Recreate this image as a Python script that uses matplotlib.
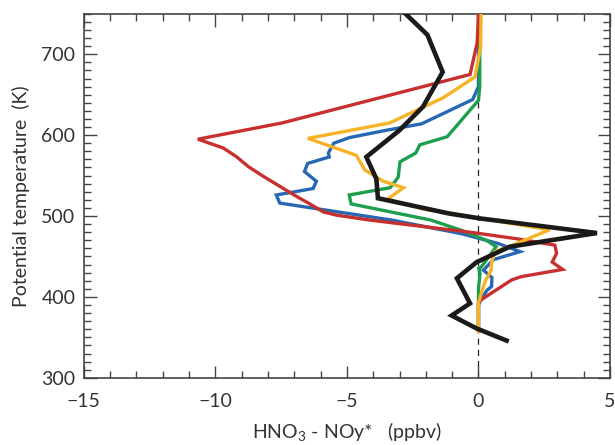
import matplotlib
matplotlib.use('Agg')
import matplotlib.pyplot as plt
from matplotlib.ticker import MultipleLocator

# Profiles of HNO3 - NOy* (ppbv) against potential temperature (K)
blue_x = [0.0, 0.0, -0.22, -2.16, -3.5, -4.9, -5.5, -5.7, -5.67, -6.49, -6.61, -6.16, -6.28,
          -7.68, -7.55, -3.3, -0.62, 0.75, 1.58, 0.56, 0.19, 0.51, 0.5, 0.32, 0.12, 0.0, 0.0]
blue_y = [750, 660, 644, 614, 606, 597, 590, 578, 573, 565, 555, 543, 534,
          526, 516, 495, 478, 466, 456, 446, 433, 424, 413, 408, 398, 390, 358]

green_x = [0.05, 0.05, 0.0, -0.74, -1.19, -2.23, -2.38, -2.98, -3.05, -3.28, -3.36, -4.91,
           -4.84, -1.81, -0.62, 0.3, 0.67, 0.06, 0.0, 0.06, 0.0, 0.0]
green_y = [750, 660, 643, 615, 598, 588, 578, 567, 548, 538, 535, 526,
           515, 495, 482, 470, 462, 435, 437, 429, 410, 358]

red_x = [0.0, -0.05, -0.32, -7.47, -10.66, -9.69, -9.18, -8.74, -8.17, -7.41, -6.9, -6.46,
         -5.89, -5.38, -4.13, -0.32, 1.43, 2.9, 2.97, 2.8, 3.2, 1.62, 1.26, 0.08, 0.0, 0.0]
red_y = [750, 714, 675, 615, 595, 584, 573, 561, 549, 534, 524, 516,
         505, 501, 495, 480, 472, 464, 454, 443, 434, 425, 421, 396, 392, 360]

yellow_x = [0.1, 0.08, -0.13, -1.35, -3.38, -6.48, -4.64, -4.32, -3.62, -2.85, -3.45, -2.0,
            -0.97, 1.2, 2.7, 1.3, 0.63, 0.5, 0.48, 0.25, 0.12, 0.0, 0.0]
yellow_y = [750, 709, 672, 646, 615, 596, 575, 557, 543, 535, 521, 508,
            503, 491, 483, 464, 456, 443, 433, 419, 406, 392, 357]

black_x = [-2.77, -1.94, -1.36, -2.11, -3.0, -4.26, -3.88, -3.82, -1.1, 0.06, 4.5, 1.18,
           -0.07, -0.82, -0.32, -1.02, -0.07, 1.07]
black_y = [750, 724, 678, 635, 606, 573, 546, 522, 503, 497, 479, 462,
           443, 423, 392, 377, 361, 346]

plt.rcParams['font.family'] = ['Lato', 'DejaVu Sans']
plt.rcParams['mathtext.default'] = 'regular'
text_col = '#333333'

fig = plt.figure(figsize=(6.15, 4.45), dpi=100)
ax = fig.add_axes([0.136, 0.151, 0.856, 0.818])

ax.axvline(0, color='#222222', lw=0.9, ls=(0, (5, 4)), zorder=1)

ax.plot(blue_x, blue_y, color='#2767b3', lw=2.4, solid_joinstyle='miter', zorder=2)
ax.plot(green_x, green_y, color='#1e9e4f', lw=2.4, solid_joinstyle='miter', zorder=3)
ax.plot(red_x, red_y, color='#c8302f', lw=2.4, solid_joinstyle='miter', zorder=4)
ax.plot(yellow_x, yellow_y, color='#f6b325', lw=2.4, solid_joinstyle='miter', zorder=5)
ax.plot(black_x, black_y, color='#1b1919', lw=3.3, solid_joinstyle='miter', zorder=6)

ax.set_xlim(-15, 5)
ax.set_ylim(300, 750)
ax.xaxis.set_major_locator(MultipleLocator(5))
ax.xaxis.set_minor_locator(MultipleLocator(1))
ax.yaxis.set_major_locator(MultipleLocator(100))
ax.yaxis.set_minor_locator(MultipleLocator(10))
ax.tick_params(which='both', direction='in', top=True, right=True, color='#444444',
               labelcolor=text_col, labelsize=14)
ax.tick_params(which='major', length=9, width=1.0)
ax.tick_params(which='minor', length=5, width=1.0)
ax.tick_params(axis='x', pad=11)
ax.tick_params(axis='y', pad=6)
for s in ax.spines.values():
    s.set_color('#444444')
    s.set_linewidth(1.2)

ax.set_xlabel('HNO$_3$ - NOy*   (ppbv)', fontsize=14, color=text_col, labelpad=7)
ax.set_ylabel('Potential temperature  (K)', fontsize=14, color=text_col, labelpad=8)

fig.savefig('out.png', dpi=100)
